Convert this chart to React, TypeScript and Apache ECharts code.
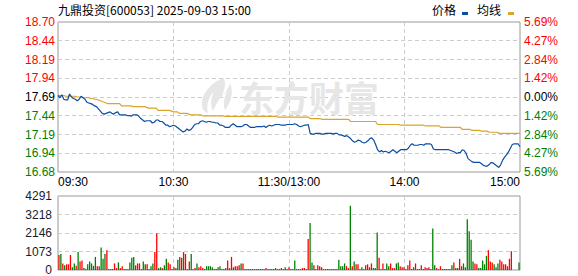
import React, { useEffect, useRef } from 'react';
import * as echarts from 'echarts';

// ---------- data ----------
const titleText = '九鼎投资[600053] 2025-09-03 15:00';
const legendNames = ['价格', '均线'];

const priceTicks = [16.68, 16.94, 17.19, 17.44, 17.69, 17.94, 18.19, 18.44, 18.70];
const pctLabels = ['5.69%', '4.27%', '2.84%', '1.42%', '0.00%', '1.42%', '2.84%', '4.27%', '5.69%'];
const volTickLabels = ['0', '1073', '2146', '3218', '4291'];
const timeTickIndex = [0, 60, 120, 180, 240];
const timeTickLabels = ['09:30', '10:30', '11:30/13:00', '14:00', '15:00'];

const price = [
  17.71, 17.68, 17.72, 17.66, 17.65, 17.65, 17.73, 17.69, 17.67, 17.66,
  17.64, 17.66, 17.70, 17.68, 17.66, 17.62, 17.61, 17.60, 17.59, 17.57,
  17.56, 17.53, 17.50, 17.47, 17.46, 17.47, 17.48, 17.49, 17.47, 17.46,
  17.48, 17.49, 17.45, 17.45, 17.45, 17.45, 17.44, 17.44, 17.43, 17.45,
  17.45, 17.45, 17.43, 17.40, 17.38, 17.36, 17.37, 17.37, 17.37, 17.34,
  17.35, 17.38, 17.38, 17.36, 17.36, 17.34, 17.31, 17.31, 17.29, 17.30,
  17.31, 17.30, 17.28, 17.26, 17.24, 17.22, 17.23, 17.26, 17.24, 17.25,
  17.28, 17.32, 17.33, 17.33, 17.36, 17.37, 17.36, 17.35, 17.36, 17.36,
  17.35, 17.35, 17.34, 17.34, 17.31, 17.31, 17.30, 17.28, 17.28, 17.28,
  17.31, 17.33, 17.31, 17.29, 17.29, 17.29, 17.30, 17.32, 17.32, 17.30,
  17.28, 17.28, 17.28, 17.29, 17.29, 17.29, 17.29, 17.30, 17.28, 17.30,
  17.31, 17.30, 17.31, 17.32, 17.32, 17.32, 17.31, 17.31, 17.31, 17.32,
  17.32, 17.32, 17.32, 17.33, 17.32, 17.30, 17.29, 17.30, 17.31, 17.31,
  17.32, 17.20, 17.19, 17.19, 17.20, 17.20, 17.20, 17.19, 17.19, 17.20,
  17.20, 17.20, 17.20, 17.19, 17.20, 17.20, 17.18, 17.18, 17.17, 17.16,
  17.17, 17.15, 17.13, 17.10, 17.08, 17.09, 17.11, 17.10, 17.08, 17.07,
  17.08, 17.10, 17.13, 17.14, 17.11, 17.05, 16.98, 16.95, 16.97, 16.95,
  16.96, 16.95, 16.94, 16.96, 16.98, 16.96, 16.94, 16.96, 16.98, 16.98,
  16.98, 16.98, 17.00, 17.04, 17.06, 17.04, 17.04, 17.04, 17.05, 17.05,
  17.04, 17.06, 17.06, 17.06, 17.05, 16.99, 16.98, 16.98, 16.98, 16.98,
  16.98, 16.98, 16.98, 16.98, 16.97, 16.96, 16.95, 16.93, 16.94, 16.94,
  16.98, 16.97, 16.93, 16.86, 16.84, 16.82, 16.81, 16.81, 16.81, 16.81,
  16.79, 16.77, 16.76, 16.76, 16.78, 16.81, 16.80, 16.78, 16.76, 16.74,
  16.78, 16.84, 16.88, 16.91, 16.95, 17.00, 17.05, 17.06, 17.06, 17.06, 17.02,
];

const avgPrice = [
  17.71, 17.71, 17.71, 17.71, 17.70, 17.70, 17.70, 17.70, 17.70, 17.70,
  17.69, 17.69, 17.69, 17.68, 17.68, 17.68, 17.68, 17.67, 17.67, 17.66,
  17.66, 17.65, 17.64, 17.63, 17.62, 17.61, 17.60, 17.60, 17.60, 17.60,
  17.60, 17.60, 17.60, 17.57, 17.57, 17.57, 17.57, 17.57, 17.57, 17.56,
  17.56, 17.56, 17.56, 17.56, 17.56, 17.56, 17.55, 17.54, 17.54, 17.54,
  17.54, 17.54, 17.51, 17.51, 17.51, 17.51, 17.51, 17.51, 17.51, 17.50,
  17.49, 17.49, 17.49, 17.47, 17.47, 17.47, 17.47, 17.47, 17.46, 17.45,
  17.45, 17.45, 17.45, 17.45, 17.45, 17.44, 17.435, 17.435, 17.435, 17.435,
  17.435, 17.435, 17.435, 17.435, 17.435, 17.435, 17.435, 17.428, 17.428, 17.428,
  17.428, 17.428, 17.428, 17.428, 17.428, 17.428, 17.428, 17.428, 17.428, 17.428,
  17.428, 17.428, 17.428, 17.428, 17.428, 17.428, 17.428, 17.428, 17.428, 17.428,
  17.428, 17.428, 17.428, 17.428, 17.42, 17.42, 17.42, 17.42, 17.42, 17.42,
  17.42, 17.42, 17.42, 17.42, 17.42, 17.42, 17.42, 17.42, 17.42, 17.42,
  17.42, 17.40, 17.40, 17.40, 17.40, 17.40, 17.40, 17.39, 17.39, 17.39,
  17.39, 17.39, 17.39, 17.39, 17.39, 17.39, 17.39, 17.39, 17.39, 17.39,
  17.39, 17.39, 17.36, 17.36, 17.36, 17.36, 17.36, 17.36, 17.36, 17.36,
  17.36, 17.36, 17.36, 17.36, 17.36, 17.36, 17.32, 17.32, 17.32, 17.32,
  17.32, 17.32, 17.32, 17.32, 17.32, 17.32, 17.32, 17.32, 17.31, 17.31,
  17.31, 17.31, 17.31, 17.31, 17.31, 17.31, 17.31, 17.31, 17.31, 17.31,
  17.31, 17.30, 17.30, 17.30, 17.30, 17.30, 17.30, 17.30, 17.30, 17.28,
  17.28, 17.28, 17.28, 17.28, 17.28, 17.28, 17.28, 17.28, 17.28, 17.28,
  17.255, 17.255, 17.255, 17.255, 17.255, 17.24, 17.24, 17.24, 17.24, 17.24,
  17.23, 17.23, 17.23, 17.23, 17.215, 17.215, 17.215, 17.215, 17.215, 17.20,
  17.20, 17.20, 17.20, 17.20, 17.20, 17.20, 17.20, 17.20, 17.20, 17.20, 17.20,
];

const volumes = [
  870, 930, 380, 270, 330, 330, 870, 160, 380, 240,
  1050, 490, 550, 110, 70, 330, 490, 380, 240, 760,
  220, 220, 1310, 650, 930, 1150, 55, 55, 55, 380,
  110, 440, 110, 220, 55, 55, 55, 440, 710, 760,
  270, 380, 380, 55, 490, 330, 330, 55, 220, 380,
  1040, 2130, 110, 160, 110, 270, 650, 440, 330, 55,
  160, 110, 600, 760, 710, 1040, 930, 55, 490, 930,
  55, 110, 380, 160, 220, 110, 55, 220, 220, 220,
  160, 55, 55, 160, 220, 55, 55, 110, 550, 110,
  760, 160, 220, 220, 270, 380, 380, 55, 55, 55,
  55, 55, 55, 55, 55, 55, 55, 55, 110, 55,
  55, 55, 55, 110, 55, 55, 110, 55, 160, 55,
  160,
  55, 55, 550, 55, 55, 55, 110, 110, 55, 1800,
  2730, 440, 270, 55, 270, 220, 160, 55, 55, 55,
  55, 55, 55, 55, 55, 600, 220, 220, 380, 220,
  110, 3720, 220, 490, 330, 330, 55, 160, 55, 270,
  330, 160, 380, 110, 110, 2180, 710, 55, 380, 55,
  380, 220, 380, 110, 110, 380, 440, 220, 160, 160,
  55, 270, 550, 55, 160, 380, 55, 55, 270, 55,
  160, 110, 160, 55, 2400, 270, 110, 55, 220, 55,
  55, 55, 55, 55, 270, 440, 110, 110, 650, 220,
  380, 160, 2950, 2240, 1750, 490, 380, 330, 110, 110,
  550, 330, 820, 1150, 490, 440, 330, 160, 380, 600,
  490, 330, 330, 220, 650, 1090, 0, 0, 0, 440,
];

// 1 = red (up), 0 = green (down)
const volumeUp = [
  1, 0, 1, 0, 1, 1, 1, 0, 0, 1,
  0, 1, 1, 0, 0, 0, 0, 0, 0, 0,
  1, 1, 0, 0, 0, 1, 1, 0, 1, 1,
  1, 0, 1, 1, 0, 0, 1, 0, 0, 0,
  1, 1, 1, 0, 0, 0, 1, 1, 0, 0,
  1, 1, 0, 0, 1, 0, 0, 1, 1, 0,
  1, 0, 0, 1, 0, 1, 1, 1, 1, 0,
  1, 1, 0, 1, 1, 1, 1, 0, 0, 0,
  0, 0, 1, 0, 0, 1, 1, 1, 1, 1,
  1, 0, 1, 1, 1, 0, 1, 0, 0, 1,
  0, 0, 1, 0, 0, 1, 0, 1, 1, 1,
  0, 1, 0, 0, 1, 0, 1, 1, 0, 1,
  1,
  0, 1, 0, 0, 0, 0, 1, 1, 0, 1,
  0, 0, 1, 0, 1, 1, 1, 0, 1, 1,
  0, 1, 0, 0, 0, 0, 0, 0, 0, 1,
  1, 0, 1, 0, 1, 1, 0, 0, 1, 1,
  1, 1, 1, 0, 0, 0, 1, 0, 1, 1,
  0, 0, 1, 1, 1, 0, 0, 1, 1, 1,
  1, 1, 1, 0, 0, 1, 1, 0, 1, 0,
  1, 1, 1, 0, 0, 0, 1, 0, 1, 1,
  0, 0, 0, 0, 0, 1, 0, 1, 1, 1,
  0, 0, 0, 0, 0, 0, 1, 1, 0, 0,
  0, 0, 0, 1, 1, 1, 0, 0, 0, 1,
  1, 1, 1, 1, 1, 1, 0, 0, 0, 0,
];

// minute categories: 09:30..11:30, 13:01..15:00
const pad = (n: number) => (n < 10 ? '0' + n : '' + n);
const categories: string[] = [];
for (let m = 9 * 60 + 30; m <= 11 * 60 + 30; m++) categories.push(pad(Math.floor(m / 60)) + ':' + pad(m % 60));
for (let m = 13 * 60 + 1; m <= 15 * 60; m++) categories.push(pad(Math.floor(m / 60)) + ':' + pad(m % 60));

// ---------- styling ----------
const FONT = "'Liberation Sans', 'Noto Sans CJK SC', sans-serif";
const CJK = "'Noto Sans CJK SC', 'Liberation Sans', sans-serif";
const RED = '#ff0000';
const GREEN = '#008000';
const BLUE = '#0a4ea3';
const GOLD = '#dba42c';
const GRIDC = '#cccccc';
const FRAME = '#999999';

const P_MIN = priceTicks[0];
const P_MAX = priceTicks[priceTicks.length - 1];
const P_INT = (P_MAX - P_MIN) / (priceTicks.length - 1);
const V_MAX = 4291;
const V_INT = V_MAX / 4;

const tickK = (v: any) => Math.round((Number(v) - P_MIN) / P_INT);
const tickColor = (v: any) => {
  const k = tickK(v);
  return k < 4 ? GREEN : k === 4 ? '#000000' : RED;
};

echarts.graphic.registerShape(
  'emLogo',
  echarts.graphic.extendPath(
    'M24 0 C12 4 3 14 2 24 C1 30 4 34 8 35 C6 28 8 20 14 13 C11 20 10 27 13 33 C16 26 20 19 27 13 C24 20 23 27 25 32 C31 25 34 14 30 5 C29 10 26 14 22 17 C25 11 26 5 24 0 Z',
    {}
  ) as any
);

const dashed = { show: true, lineStyle: { color: GRIDC, type: [4, 3] as any, width: 1 } };

export default function App() {
  const ref = useRef<HTMLDivElement>(null);
  useEffect(() => {
    const chart = echarts.init(ref.current!, null, { renderer: 'svg' });
    const last = timeTickLabels.length - 1;
    const option: any = {
      animation: false,
      backgroundColor: '#ffffff',
      textStyle: { fontFamily: FONT },
      grid: [
        { left: 58, top: 22, width: 462, height: 150, show: true, borderColor: FRAME, borderWidth: 1, backgroundColor: 'transparent' },
        { left: 58, top: 196, width: 462, height: 74, show: true, borderColor: FRAME, borderWidth: 1, backgroundColor: 'transparent' },
      ],
      xAxis: [
        {
          type: 'category', gridIndex: 0, data: categories, boundaryGap: false,
          axisLine: { show: false }, axisTick: { show: false },
          splitLine: { ...dashed, interval: (i: number) => i === 60 || i === 120 || i === 180 },
          axisLabel: {
            interval: (i: number) => timeTickIndex.indexOf(i) >= 0,
            margin: 4, fontSize: 12, fontFamily: FONT, color: '#000',
            formatter: (_v: string, i: number) => {
              const k = timeTickIndex.indexOf(i);
              if (k < 0) return '';
              if (k === 0) return '{l|' + timeTickLabels[k] + '}';
              if (k === last) return '{r|' + timeTickLabels[k] + '}';
              return timeTickLabels[k];
            },
            rich: {
              l: { padding: [0, 0, 0, 30], fontSize: 12, fontFamily: FONT, color: '#000' },
              r: { padding: [0, 30, 0, 0], fontSize: 12, fontFamily: FONT, color: '#000' },
            },
          },
        },
        {
          type: 'category', gridIndex: 1, data: categories, boundaryGap: true, show: false,
        },
        {
          type: 'category', gridIndex: 1, data: categories, boundaryGap: false,
          axisLine: { show: false }, axisTick: { show: false }, axisLabel: { show: false },
          splitLine: { ...dashed, interval: (i: number) => i === 60 || i === 120 || i === 180 },
        },
      ],
      yAxis: [
        {
          type: 'value', gridIndex: 0, position: 'left', min: P_MIN, max: P_MAX, interval: P_INT,
          axisLine: { show: false }, axisTick: { show: false },
          splitLine: dashed,
          axisLabel: {
            margin: 3, fontSize: 12, fontFamily: FONT,
            formatter: (v: number) => { const k = tickK(v); return k >= 0 && k < priceTicks.length ? priceTicks[k].toFixed(2) : ''; },
            color: tickColor,
          },
        },
        {
          type: 'value', gridIndex: 0, position: 'right', min: P_MIN, max: P_MAX, interval: P_INT,
          axisLine: { show: false }, axisTick: { show: false }, splitLine: { show: false },
          axisLabel: {
            margin: 4, fontSize: 12, fontFamily: FONT,
            formatter: (v: number) => { const k = tickK(v); return pctLabels[k] ?? ''; },
            color: tickColor,
          },
        },
        {
          type: 'value', gridIndex: 1, min: 0, max: V_MAX, interval: V_INT,
          axisLine: { show: false }, axisTick: { show: false },
          splitLine: dashed,
          axisLabel: {
            margin: 6, fontSize: 12, fontFamily: FONT, color: '#1a1a2e',
            formatter: (v: number) => volTickLabels[Math.round(v / V_INT)] ?? '',
          },
        },
      ],
      graphic: [
        { type: 'text', x: 58, y: 9.5, z: 10, style: { text: titleText, fill: '#000', font: '12px ' + CJK, align: 'left', verticalAlign: 'middle' } },
        { type: 'text', x: 432, y: 9.5, z: 10, style: { text: legendNames[0], fill: '#000', font: '12px ' + CJK, align: 'left', verticalAlign: 'middle' } },
        { type: 'rect', z: 10, shape: { x: 462, y: 12, width: 6, height: 3 }, style: { fill: BLUE } },
        { type: 'text', x: 477, y: 9.5, z: 10, style: { text: legendNames[1], fill: '#000', font: '12px ' + CJK, align: 'left', verticalAlign: 'middle' } },
        { type: 'rect', z: 10, shape: { x: 508, y: 12, width: 6, height: 3 }, style: { fill: GOLD } },
        { type: 'emLogo', x: 200, y: 78, scaleX: 1, scaleY: 1, z: 1, style: { fill: '#e6e6e6' } },
        { type: 'text', x: 239, y: 96, z: 1, style: { text: '东方财富', fill: '#e6e6e6', font: 'bold 35px ' + CJK, align: 'left', verticalAlign: 'middle' } },
      ],
      series: [
        {
          type: 'line', name: '价格', xAxisIndex: 0, yAxisIndex: 0, data: price,
          symbol: 'none', lineStyle: { color: BLUE, width: 1.2 }, itemStyle: { color: BLUE }, z: 3,
        },
        {
          type: 'line', name: '均线', xAxisIndex: 0, yAxisIndex: 0, data: avgPrice,
          symbol: 'none', lineStyle: { color: GOLD, width: 1.2 }, itemStyle: { color: GOLD }, z: 2,
        },
        {
          type: 'bar', name: '成交量', xAxisIndex: 1, yAxisIndex: 2, barWidth: 1.3,
          data: volumes.map((v, i) => ({ value: v, itemStyle: { color: volumeUp[i] ? RED : GREEN } })),
        },
      ],
    };
    chart.setOption(option);
    return () => chart.dispose();
  }, []);
  return <div ref={ref} style={{ position: 'fixed', left: 0, top: 0, width: 578, height: 276, background: '#fff' }} />;
}
